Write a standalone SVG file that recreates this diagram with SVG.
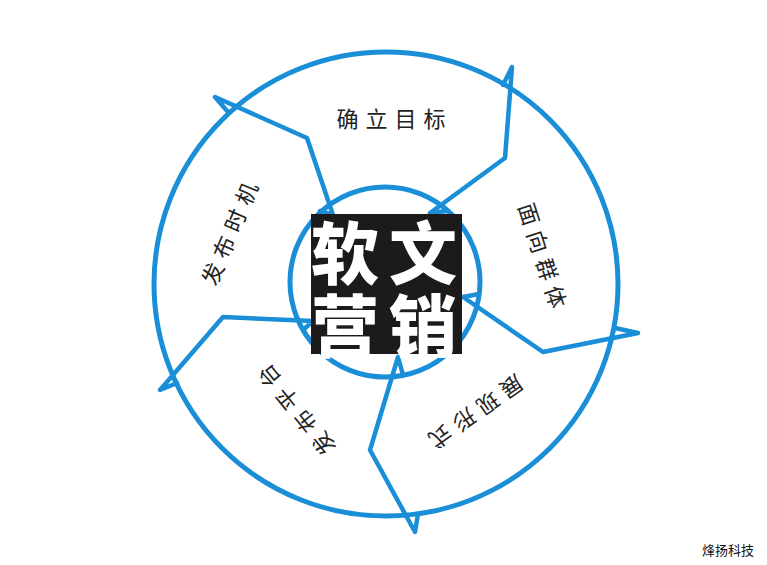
<svg xmlns="http://www.w3.org/2000/svg" width="767" height="565" viewBox="0 0 767 565">
<style>
.ring{fill:none;stroke:#1a8ed6;stroke-width:5}
.div{fill:none;stroke:#1a8ed6;stroke-width:4.5;stroke-linejoin:round;stroke-linecap:round}
.lbl{font-family:"Noto Sans CJK SC","Noto Sans CJK JP",sans-serif;font-size:22px;fill:#222222;letter-spacing:7px;text-anchor:middle;dominant-baseline:central}
.title{font-family:"Noto Sans CJK SC","Noto Sans CJK JP",sans-serif;font-weight:900;font-size:68px;fill:#ffffff;letter-spacing:10px;text-anchor:middle;dominant-baseline:central}
.foot{font-family:"Noto Sans CJK SC","Noto Sans CJK JP",sans-serif;font-size:13px;fill:#111;text-anchor:middle;dominant-baseline:central}
</style>
<rect width="767" height="565" fill="#ffffff"/>
<g id="rings">
<circle class="ring" cx="386" cy="284" r="232"/>
<circle class="ring" cx="385" cy="282" r="95"/>
</g>
<g id="connectors">
<polyline class="div" points="228,112 215,97 307,138 333,215 320,211"/>
<polyline class="div" points="503,85 512,67 505,158 430,213 447,211"/>
<polyline class="div" points="615,328 638,333 543,352 463,297 479,294"/>
<polyline class="div" points="418,514 415,532 370,450 398,357 403,375"/>
<polyline class="div" points="177,383 160,390 223,317 313,321 303,330"/>
</g>
<g id="center">
<rect x="311" y="214" width="151" height="140" fill="#1c1a1a"/>
<text class="title"><tspan x="389" y="249">软文</tspan><tspan x="389" y="322">营销</tspan></text>
</g>
<g id="label-goal"><text class="lbl" transform="translate(391,117)" x="3.5" y="0">确立目标</text></g>
<g id="label-audience"><text class="lbl" transform="translate(544,255) rotate(72)" x="3.5" y="0">面向群体</text></g>
<g id="label-form"><text class="lbl" transform="translate(477,413) rotate(145)" x="3.5" y="0">展现形式</text></g>
<g id="label-platform"><text class="lbl" transform="translate(295,411) rotate(-129)" x="3.5" y="0">发布平台</text></g>
<g id="label-timing"><text class="lbl" transform="translate(228,233) rotate(-67)" x="3.5" y="0">发布时机</text></g>
<g id="footer"><text class="foot" x="728" y="549">烽扬科技</text></g>
</svg>
